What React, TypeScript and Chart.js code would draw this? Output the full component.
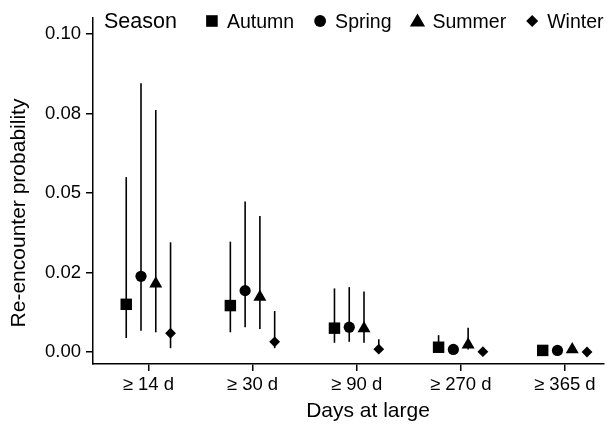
import React, { useEffect, useRef } from "react";
import { Chart, registerables } from "chart.js";

Chart.register(...registerables);

const FONT = '"Liberation Sans", Arial, Helvetica, sans-serif';

// ---- data ----
const categories = ["≥ 14 d", "≥ 30 d", "≥ 90 d", "≥ 270 d", "≥ 365 d"];
const seasons = ["Autumn", "Spring", "Summer", "Winter"];
const legendTitle = "Season";
const xTitle = "Days at large";
const yTitle = "Re-encounter probability";
const yTickValues = [0, 0.025, 0.05, 0.075, 0.1];
const yTickLabels = ["0.00", "0.02", "0.05", "0.08", "0.10"];

const autumn = [0.0150, 0.0146, 0.0075, 0.0015, 0.0005];
const autumnLow = [0.0044, 0.0062, 0.0029, 0.0008, 0.0001];
const autumnHigh = [0.0550, 0.0347, 0.0200, 0.0053, 0.0012];

const spring = [0.0238, 0.0193, 0.0078, 0.0008, 0.0005];
const springLow = [0.0067, 0.0078, 0.0032, 0.0002, 0.0001];
const springHigh = [0.0845, 0.0473, 0.0204, 0.0020, 0.0012];

const summer = [0.0215, 0.0173, 0.0074, 0.0023, 0.0008];
const summerLow = [0.0062, 0.0072, 0.0029, 0.0008, 0.0002];
const summerHigh = [0.0761, 0.0428, 0.0190, 0.0076, 0.0020];

const winter = [0.0059, 0.0032, 0.0009, 0.0001, 0.0000];
const winterLow = [0.0012, 0.0012, 0.0001, 0.0000, 0.0000];
const winterHigh = [0.0345, 0.0129, 0.0040, 0.0005, 0.0004];

const values = [autumn, spring, summer, winter];
const lows = [autumnLow, springLow, summerLow, winterLow];
const highs = [autumnHigh, springHigh, summerHigh, winterHigh];
const dodge = [-0.2128, -0.0709, 0.0709, 0.2128];
const pointStyles = ["rect", "circle", "triangle", "rectRot"];
const pointRadii = [8.1, 5.6, 7.5, 5.4];

function drawMarker(ctx: CanvasRenderingContext2D, style: string, cx: number, cy: number) {
  ctx.beginPath();
  if (style === "rect") {
    ctx.rect(cx - 5.8, cy - 5.8, 11.6, 11.6);
  } else if (style === "circle") {
    ctx.arc(cx, cy, 5.9, 0, Math.PI * 2);
  } else if (style === "triangle") {
    ctx.moveTo(cx, cy - 7.5);
    ctx.lineTo(cx + 7.6, cy + 5.5);
    ctx.lineTo(cx - 7.6, cy + 5.5);
    ctx.closePath();
  } else {
    ctx.moveTo(cx, cy - 6);
    ctx.lineTo(cx + 6, cy);
    ctx.lineTo(cx, cy + 6);
    ctx.lineTo(cx - 6, cy);
    ctx.closePath();
  }
  ctx.fill();
}

const errorBars = {
  id: "errorBars",
  beforeDatasetsDraw(chart: any) {
    const ctx = chart.ctx as CanvasRenderingContext2D;
    const xs = chart.scales.x;
    const ys = chart.scales.y;
    ctx.save();
    ctx.strokeStyle = "#000";
    ctx.lineWidth = 1.6;
    ctx.lineCap = "butt";
    values.forEach((series, si) => {
      series.forEach((_, i) => {
        const x = xs.getPixelForValue(i + 1 + dodge[si]);
        const y1 = ys.getPixelForValue(lows[si][i]);
        const y2 = ys.getPixelForValue(highs[si][i]);
        ctx.beginPath();
        ctx.moveTo(x, y1);
        ctx.lineTo(x, y2);
        ctx.stroke();
      });
    });
    ctx.restore();
  },
};

const decorations = {
  id: "decorations",
  afterDraw(chart: any) {
    const ctx = chart.ctx as CanvasRenderingContext2D;
    ctx.save();
    ctx.fillStyle = "#000";
    // x title
    ctx.font = `21px ${FONT}`;
    ctx.textAlign = "center";
    ctx.textBaseline = "alphabetic";
    ctx.fillText(xTitle, 368, 417);
    // y title
    ctx.save();
    ctx.translate(25, 213);
    ctx.rotate(-Math.PI / 2);
    ctx.fillText(yTitle, 0, 0);
    ctx.restore();
    // legend
    ctx.textAlign = "left";
    ctx.font = `21.5px ${FONT}`;
    let x = 104;
    ctx.fillText(legendTitle, x, 28);
    x += ctx.measureText(legendTitle).width + 29;
    ctx.font = `19.5px ${FONT}`;
    seasons.forEach((name, si) => {
      drawMarker(ctx, pointStyles[si], x + 6, 21);
      const tx = x + 21;
      ctx.fillText(name, tx, 28);
      x = tx + ctx.measureText(name).width + 20;
    });
    ctx.restore();
  },
};

export default function App() {
  const ref = useRef<HTMLCanvasElement>(null);
  useEffect(() => {
    document.body.style.margin = "0";
    const canvas = ref.current;
    if (!canvas) return;
    const datasets = seasons.map((name, si) => ({
      label: name,
      data: values[si].map((v, i) => ({ x: i + 1 + dodge[si], y: v })),
      pointStyle: pointStyles[si] as any,
      pointRadius: pointRadii[si],
      backgroundColor: "#000",
      borderColor: "#000",
      borderWidth: 0,
      showLine: false,
    }));
    const chart = new Chart(canvas, {
      type: "scatter",
      data: { datasets },
      plugins: [errorBars, decorations],
      options: {
        responsive: false,
        animation: false,
        devicePixelRatio: 1,
        layout: { padding: { top: 18, left: 0, right: 0, bottom: 0 } },
        plugins: { legend: { display: false }, tooltip: { enabled: false } },
        scales: {
          x: {
            type: "linear",
            min: 0.468,
            max: 5.375,
            afterBuildTicks: (s: any) => {
              s.ticks = categories.map((_, i) => ({ value: i + 1 }));
            },
            afterFit: (s: any) => {
              s.height = 60;
            },
            ticks: {
              autoSkip: false,
              maxRotation: 0,
              padding: 3,
              color: "#000",
              font: { family: FONT, size: 18.5 },
              callback: (v: any) => categories[Math.round(Number(v)) - 1] ?? "",
            },
            grid: {
              display: true,
              drawOnChartArea: false,
              drawTicks: true,
              tickLength: 7,
              color: "#000",
              lineWidth: 1.5,
            },
            border: { display: true, color: "#000", width: 1.5 },
          },
          y: {
            type: "linear",
            min: -0.00377,
            max: 0.10503,
            afterBuildTicks: (s: any) => {
              s.ticks = yTickValues.map((v) => ({ value: v }));
            },
            afterFit: (s: any) => {
              s.width = 93;
            },
            ticks: {
              padding: 5,
              color: "#000",
              font: { family: FONT, size: 18.5 },
              callback: (v: any) => {
                const idx = yTickValues.findIndex((t) => Math.abs(t - Number(v)) < 1e-9);
                return idx >= 0 ? yTickLabels[idx] : "";
              },
            },
            grid: {
              display: true,
              drawOnChartArea: false,
              drawTicks: true,
              tickLength: 7,
              color: "#000",
              lineWidth: 1.5,
            },
            border: { display: true, color: "#000", width: 1.5 },
          },
        },
      },
    });
    return () => chart.destroy();
  }, []);
  return (
    <canvas ref={ref} width={612} height={424} style={{ display: "block", width: 612, height: 424 }} />
  );
}
